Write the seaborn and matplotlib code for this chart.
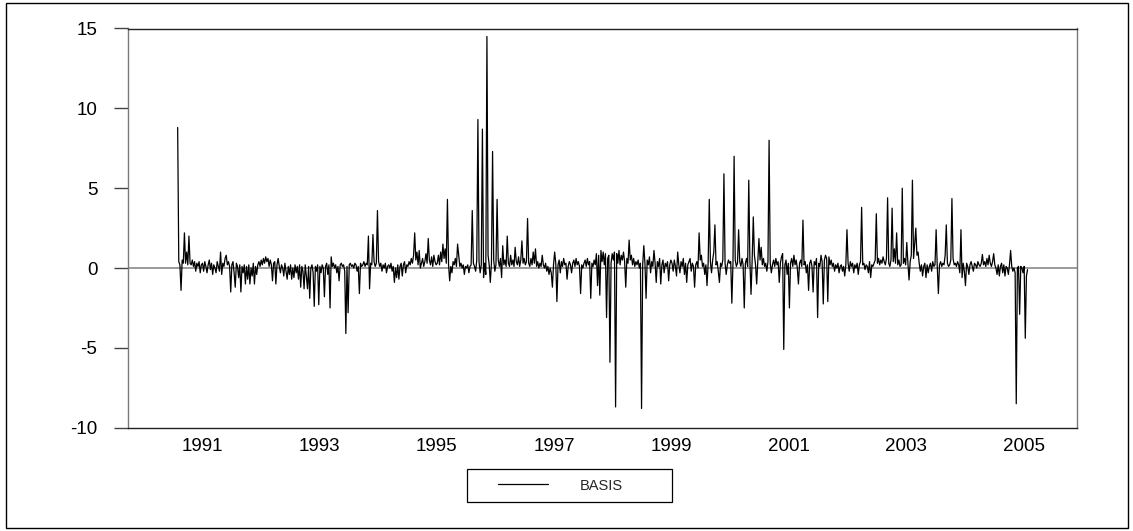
import numpy as np
import pandas as pd
import matplotlib
matplotlib.use("Agg")
import matplotlib.pyplot as plt
from matplotlib.patches import Rectangle
import seaborn as sns

# Weekly BASIS observations, one list per calendar year
b1990 = [8.8, 0.4, 0.2, -1.4, 0.5, 0.3, 2.2, 0.3, 1.0, 0.2, 2.0, 0.3,
         0.2, 0.5, 0.1, 0.4, -0.2, 0.3, 0.1, 0.4, -0.3, 0.2]
b1991 = [0.3, -0.2, 0.4, 0.1, -0.3, 0.2, 0.5, -0.1, 0.3, -0.4, 0.2, 0.0, -0.3,
         0.4, 0.1, -0.2, 1.0, -0.4, 0.3, 0.1, 0.6, 0.8, 0.2, 0.4, 0.1, -1.5,
         0.2, 0.4, -0.3, -1.2, 0.3, 0.1, -0.6, 0.2, -1.5, 0.1, -0.3, 0.2, -1.0,
         0.1, -0.7, 0.2, -1.0, 0.0, -0.5, 0.3, -1.0, 0.1, -0.4, 0.2, 0.4, 0.1]
b1992 = [0.5, 0.2, 0.6, 0.3, 0.7, 0.4, 0.6, 0.1, 0.5, 0.2, -0.8, 0.3, 0.4,
         -1.0, 0.2, 0.6, 0.1, -0.3, 0.2, 0.0, -0.5, 0.3, -0.2, -0.7, 0.1, -0.4,
         0.2, -0.7, 0.0, -0.6, 0.2, -0.3, 0.1, -0.7, 0.2, -1.2, 0.1, -0.2, -1.3,
         0.2, -0.5, -1.3, 0.1, -1.9, 0.0, 0.2, -0.3, -2.4, 0.1, -0.2, 0.2, -2.3]
b1993 = [0.1, -0.3, 0.2, 0.0, -1.8, 0.1, 0.3, -0.4, 0.2, -2.5, 0.7, 0.1, 0.3,
         0.0, 0.2, -0.3, 0.1, -0.8, 0.2, 0.3, 0.1, 0.2, -0.2, -4.1, 0.1, -2.8,
         0.2, 0.3, 0.1, 0.2, 0.0, 0.3, 0.2, -0.2, 0.1, -1.6, 0.3, 0.1, 0.2,
         0.4, 0.1, 0.3, 0.2, 2.0, -1.3, 0.3, 0.2, 2.1, 0.4, 0.1, 0.3, 3.6]
b1994 = [0.4, 0.1, 0.3, -0.2, 0.2, 0.0, 0.3, -0.3, 0.1, 0.2, 0.0, 0.3, -0.2,
         0.1, -0.9, 0.0, -0.6, 0.2, -0.7, 0.1, 0.3, -0.5, 0.2, 0.4, -0.3, 0.2,
         0.1, 0.4, 0.2, 0.6, 0.3, 0.8, 2.2, 0.5, 1.0, 0.2, 1.1, 0.0, 0.3,
         0.6, 0.1, 0.4, 0.9, 0.3, 1.85, 0.5, 0.2, 0.7, 0.1, 0.8, 0.4, 0.2]
b1995 = [0.3, 0.8, 0.2, 1.0, 0.4, 1.5, 0.6, 1.2, 0.3, 4.3, 0.2, -0.8, 0.1,
         -0.3, 0.4, 0.2, 0.6, 0.1, 1.5, 0.8, 0.1, 0.3, 0.0, 0.2, -0.4, 0.1,
         0.0, 0.2, -0.3, 0.1, 0.2, 3.6, 0.3, 0.1, -0.2, 0.5, 9.3, 0.4, -0.3,
         0.2, 8.7, -0.6, 0.3, -0.4, 14.5, 0.8, 0.2, -0.9, 0.3, 7.3, 0.5, -0.2]
b1996 = [0.2, 4.3, 0.5, 0.1, 0.6, -0.6, 1.4, 0.2, 0.5, 0.1, 2.0, 0.3, 0.1,
         0.8, 0.2, 0.5, 0.1, 1.3, 0.4, 0.2, 0.7, 0.1, 0.5, 1.7, 0.3, 0.6,
         0.2, 0.4, 3.1, 0.3, 0.1, 0.6, 0.2, 1.0, 0.3, 1.2, 0.1, 0.4, 0.0,
         0.3, 0.1, 0.8, 0.2, 0.0, 0.3, -0.2, 0.1, -0.4, 0.0, -0.3, -1.2, 0.2]
b1997 = [1.0, 0.3, -2.1, 0.2, 0.5, -0.3, 0.4, 0.1, 0.6, 0.2, 0.3, -0.7, 0.1,
         0.4, 0.2, -0.3, 0.3, 0.5, 0.1, 0.6, 0.2, 0.4, 0.1, -1.6, 0.2, 0.0,
         0.3, 0.5, 0.1, 0.6, 0.2, 0.4, -1.9, 0.3, 0.1, 0.5, 0.2, 0.9, -1.1,
         0.8, -1.7, 1.1, 0.4, 1.0, 0.2, 0.9, -3.1, 0.6, 0.8, -5.9, 0.3, 0.9]
b1998 = [0.5, 1.0, -8.7, 0.9, 0.3, 1.1, 0.2, 0.8, 0.5, 1.0, 0.4, -1.2, 0.6,
         0.3, 1.75, 0.5, 0.8, 0.2, 0.6, 0.1, 0.4, 0.2, 0.5, 0.0, 0.3, -8.8,
         0.2, 1.4, 0.3, -1.9, 0.5, 0.2, 0.7, -0.3, 0.4, 0.1, 1.1, 0.3, -0.9,
         0.4, 0.1, 0.6, -1.0, 0.2, 0.5, -0.3, 0.3, 0.1, 0.4, -0.8, 0.2, 0.5]
b1999 = [0.3, -0.2, 0.5, 0.1, -0.5, 1.0, 0.2, -0.3, 0.4, 0.1, 0.6, -0.4, 0.3,
         -0.9, 0.2, 0.4, 0.6, -0.2, 0.3, 0.1, -1.2, 0.2, 0.4, 0.0, 2.2, 0.5,
         0.8, 0.1, 0.3, -0.4, 0.2, -1.1, 0.3, 4.3, 0.4, -0.3, 0.5, 1.0, 2.7,
         0.2, 0.4, -0.2, -0.9, 0.3, 0.1, 0.5, 5.9, 0.3, -0.4, 0.2, 0.5, 0.3]
b2000 = [0.4, -2.2, 0.3, 7.0, 0.5, 0.1, 0.3, 2.4, 0.4, 0.1, 0.6, 0.2, -2.5,
         0.3, 0.6, 0.1, 5.5, 0.4, -1.65, 0.5, 3.2, 0.8, 0.2, -1.0, 0.4, 1.85,
         0.5, 1.3, 0.2, 0.6, 0.1, 0.3, -0.2, 0.4, 8.0, 0.3, -0.3, 0.2, 0.5,
         0.1, 0.6, 0.2, 0.4, -0.9, 0.3, 0.7, 0.9, -5.1, 0.2, 0.5, -0.4, 0.3]
b2001 = [-2.5, 0.3, 0.6, 0.1, 0.8, 0.2, 0.5, 0.0, -1.0, 0.3, 0.5, 0.1, 3.0,
         0.2, 0.4, -0.3, 0.2, -1.4, 0.3, 0.5, 0.1, -1.5, 0.4, 0.2, 0.6, -3.1,
         0.3, 0.1, 0.8, 0.4, -2.25, 0.5, 0.8, 0.6, -2.1, 0.7, 0.2, 0.5, 0.1,
         0.3, -0.2, 0.2, 0.0, 0.3, -0.3, 0.1, 0.2, -0.2, 0.1, -0.5, 0.2, 2.4]
b2002 = [0.3, -0.2, 0.4, 0.1, 0.3, -0.3, 0.2, 0.0, 0.3, -0.4, 0.2, 0.4, 3.8,
         0.2, 0.3, -0.1, 0.2, 0.1, -0.3, 0.4, -0.6, 0.2, 0.1, 0.3, 0.5, 3.4,
         0.3, 0.6, 0.2, 0.5, 0.3, 0.7, 0.4, 0.2, 0.6, 4.4, 0.3, 0.1, 0.5,
         3.75, 0.4, 1.2, 0.3, 2.2, 0.2, 0.5, 0.1, 0.2, 5.0, 0.3, 0.6, 0.2]
b2003 = [1.6, 0.3, -0.75, 0.4, 0.8, 5.5, 0.6, 1.5, 2.5, 0.8, 1.0, 0.3, -0.2,
         0.2, -0.5, 0.1, 0.3, -0.6, 0.2, -0.3, 0.1, 0.3, -0.2, 0.4, 0.1, 0.2,
         2.4, 0.1, -1.6, 0.2, 0.4, 0.1, 0.3, 0.2, 0.8, 2.7, 0.3, 0.1, 0.2,
         0.5, 4.35, 0.6, 0.2, 0.3, 0.1, 0.4, 0.2, -0.3, 2.4, -0.6, 0.3, -0.2]
b2004 = [-1.1, 0.3, 0.1, -0.4, 0.2, 0.4, 0.1, -0.2, 0.3, 0.2, 0.0, 0.4, 0.2,
         0.1, 0.3, 0.85, 0.2, 0.4, 0.1, 0.6, 0.2, 0.8, 0.3, 0.1, 0.4, 0.9,
         0.2, 0.0, -0.4, 0.2, -0.5, 0.1, 0.3, -0.3, 0.2, -0.5, 0.1, 0.0, -0.4,
         0.2, 1.1, 0.1, -0.2, 0.0, -0.3, -8.5, 0.0, 0.1, -2.9, 0.1, 0.0, -0.3]
b2005 = [0.1, -4.4, -0.5, -0.1]

year_labels = ["1991", "1993", "1995", "1997", "1999", "2001", "2003", "2005"]
y_ticks = [-10, -5, 0, 5, 10, 15]

# Time index (fractional years): weekly steps within each year
WEEK = 1.0 / 52.0
t_parts, v_parts = [], []
t_parts.append(1990.586 + WEEK * np.arange(len(b1990)))
v_parts.append(b1990)
full_years = [b1991, b1992, b1993, b1994, b1995, b1996, b1997,
              b1998, b1999, b2000, b2001, b2002, b2003, b2004]
for k, vals in enumerate(full_years):
    yr = 1991 + k
    t_parts.append(yr + (np.arange(len(vals)) + 0.5) / len(vals))
    v_parts.append(vals)
t_parts.append(2005 + (np.arange(len(b2005)) + 0.5) * WEEK)
v_parts.append(b2005)

df = pd.DataFrame({"t": np.concatenate(t_parts),
                   "BASIS": np.concatenate([np.asarray(v, float) for v in v_parts])})

sns.set_style("white")
plt.rcParams["font.family"] = ["Liberation Sans", "DejaVu Sans"]

W, H = 1133, 531
fig = plt.figure(figsize=(W / 100, H / 100), dpi=100)
ax = fig.add_axes([128 / W, (H - 427.7) / H, (1077 - 128) / W, (427.7 - 28.5) / H])

ax.axhline(0, color="#808080", lw=1.1, zorder=1)
sns.lineplot(data=df, x="t", y="BASIS", ax=ax, color="black", lw=0.9,
             estimator=None, sort=False, label="BASIS", legend=False, zorder=2)

ax.set_xlim(1989.74, 2005.91)
ax.set_ylim(-10, 15)
ax.set_xticks([int(s) for s in year_labels])
ax.set_xticklabels(year_labels)
ax.set_yticks(y_ticks)
ax.set_yticklabels([str(v) for v in y_ticks])
ax.set_xlabel("")
ax.set_ylabel("")
ax.tick_params(axis="x", length=0, pad=7.5, labelsize=13.5, colors="black")
ax.tick_params(axis="y", length=10, width=1, pad=12, labelsize=13.5,
               color="#444444", labelcolor="black", left=True)

for side in ("top", "bottom"):
    ax.spines[side].set_color("#222222")
    ax.spines[side].set_linewidth(1.0)
for side in ("left", "right"):
    ax.spines[side].set_color("#7a7a7a")
    ax.spines[side].set_linewidth(1.0)

# Legend: boxed entry below the plot
handles, labels = ax.get_legend_handles_labels()
leg = fig.legend(handles, labels, loc="center left",
                 bbox_to_anchor=(498 / W, (H - 485.5) / H),
                 bbox_transform=fig.transFigure, frameon=False,
                 borderpad=0, borderaxespad=0, handlelength=3.4,
                 handletextpad=2.2, fontsize=10.5)
fig.patches.append(Rectangle((467 / W, (H - 502) / H), 205 / W, 33 / H,
                             transform=fig.transFigure, fill=False,
                             ec="black", lw=0.9))

# Outer frame around the whole graphic
fig.patches.append(Rectangle((6 / W, 3 / H), (1128 - 6) / W, (528 - 3) / H,
                             transform=fig.transFigure, fill=False,
                             ec="black", lw=1.0))

fig.savefig("out.png", dpi=100, facecolor="white")
